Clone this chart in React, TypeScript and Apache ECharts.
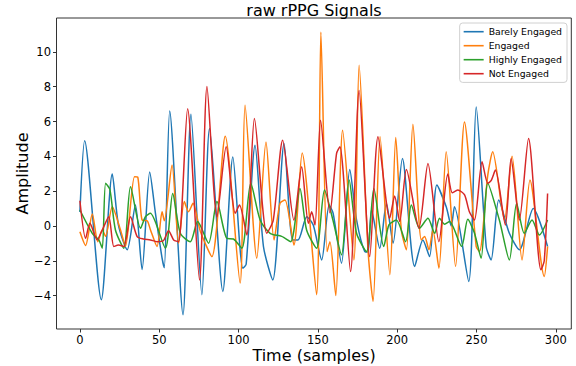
import React, { useEffect, useRef } from "react";
import * as echarts from "echarts";

const seriesNames = ["Barely Engaged", "Engaged", "Highly Engaged", "Not Engaged"];
const seriesColors = ["#1f77b4", "#ff7f0e", "#2ca02c", "#d62728"];

const xTicks = [0, 50, 100, 150, 200, 250, 300];
const yTicks = [-4, -2, 0, 2, 4, 6, 8, 10];

// [sample, amplitude] (turning points)
const barelyEngaged: [number, number][] = [
  [0, 0.8], [3, 4.9], [13.5, -4.24], [20.4, 2.98], [24.3, 0.05], [29.8, -1.37], [35, 1.2], [39.2, -2.5],
  [44, 3.1], [47.6, 0.74], [51.8, -1.85], [53.2, -2.4], [56.6, 6.6], [65, -5.1], [70, 6.42], [76.9, -3.95],
  [81.7, 5.6], [90.1, -3.76], [96.4, 3.97], [102.7, -2.43], [104.8, -2.2], [110.4, 4.64], [115.7, -1.18],
  [121.6, -3.1], [128.7, 4.74], [134.1, -0.8], [137.5, -0.8], [143, 0.53], [147.1, 0.05], [152.4, -1.95],
  [157.1, 1.2], [159.6, 0.74], [164.9, -2.14], [170.1, 3.25], [174.4, 0.34], [179.6, -1.47], [181.6, -1.5],
  [183.8, 0.92], [189, -1.28], [193.2, 1.3], [197.4, -0.99], [203.3, 3.88], [211, -2.33], [216.2, -0.8],
  [220.4, -1.76], [225, 2.35], [230.9, 1.1], [234.1, 0], [236.1, 1.1], [245.1, -3.19], [249.8, 6.84],
  [256.1, -1.18], [259.2, -1.95], [264, 1.49], [270.7, -0.42], [277, -1.37], [285.8, 1.01], [294.8, -1.18],
];

const engaged: [number, number][] = [
  [0, -0.33], [3.6, -1.12], [7.8, 0.69], [11.3, -0.9], [14.1, -0.23], [16.2, -0.6], [20.4, 1.1], [25.6, -0.23],
  [28.7, -1.18], [34.4, 2.83], [36.5, 2.8], [39.2, 0.34], [42.4, 0.3], [44.4, -0.2], [48.6, -1.18], [51.8, 0.82],
  [53.2, 0.3], [58.1, 3.5], [62.2, -0.99], [65.8, 1.4], [68.5, 0.82], [71.3, 1.3], [75.9, -0.3], [83.2, -1.76],
  [91.6, 5.15], [101, -3.28], [104.1, 6.93], [111.5, -1.85], [117.3, 4.83], [122.4, -0.8], [126.1, 1.3],
  [129.3, 1.49], [134.9, -1.09], [140.1, 4.2], [149.2, -3.95], [151.9, 11.13], [155.8, -1.47], [157.6, -0.9],
  [161.3, -4.0], [165.6, 5.5], [172.7, -1.95], [176, 9.23], [181.6, -1.37], [184.8, -4.34], [189.2, 5.12],
  [195.4, -2.8], [199.1, 5.08], [202.6, -0.23], [205.8, -1.37], [209.9, 5.85], [215.2, -0.8], [217.3, -0.6],
  [220, -1.37], [222.5, -0.23], [226.3, -2.43], [230.9, 4.26], [236.8, -2.33], [242.4, 5.98], [249.8, -1.18],
  [251.9, -1.47], [257.1, 2.92], [260.2, 4.26], [267.6, 0.34], [272.4, 4.01], [278.7, -1.95], [283.7, 2.64],
  [292.7, -2.9], [294.8, -1.18],
];

const highlyEngaged: [number, number][] = [
  [0, 0.92], [7.8, -0.42], [11.9, -0.8], [14.1, -1.28], [16.2, 2.45], [18.9, 2.1], [22.4, -0.23], [27.7, -1.28],
  [31.9, 2.25], [38.2, -0.13], [41.3, 0.53], [44.4, 0.73], [53.9, -1.28], [58.5, 1.87], [63.3, -0.42],
  [69.6, -0.9], [74.2, 0.25], [81.1, -0.99], [86.4, 1.4], [92.6, -0.71], [96.8, -0.75], [102.1, -1.28],
  [107.7, 2.45], [113.6, 0.34], [119.9, -0.42], [127.2, -0.6], [132.9, -0.9], [138.7, 2.16], [142.9, -0.23],
  [149.2, -1.28], [154.2, 2.06], [159.6, 0.3], [164.9, -1.66], [169.7, 2.64], [174.4, -0.42], [180.7, -1.47],
  [185.3, 2.16], [191.5, -1.18], [194.8, 0.06], [199.5, 0.34], [205.3, -0.9], [208.9, 1.2], [214.1, -0.13],
  [219.4, 0.44], [223.6, -0.42], [226.7, 0.44], [229.9, 0.1], [233, 0.25], [240.6, -1.18], [244.5, 0.38],
  [248.7, -0.4], [252.9, -1.85], [257.1, 2.45], [264.4, 0.34], [270.7, -1.95], [275.3, 1.3], [280.1, -0.42],
  [285, 0.34], [289.6, -0.52], [294.8, 0.34],
];

const notEngaged: [number, number][] = [
  [0, 1.45], [3.6, -0.71], [6.3, 0.15], [10.9, -0.8], [14.1, -0.23], [18.2, 0.53], [21.4, -1.18], [24.3, -1.1],
  [27.7, -1.18], [31.9, 0.53], [36.1, -0.61], [40, -0.75], [44.4, -0.8], [48.6, -0.9], [52.6, -0.85],
  [55.9, -0.27], [59.1, -0.8], [62.2, -0.9], [67.9, 6.74], [75.4, -3.1], [80.1, 8.02], [86.4, 0.53],
  [92.2, 4.55], [97.9, 0.73], [100.6, 1.2], [105.2, -0.52], [110, 6.17], [117.8, -0.42], [121.9, 0.34],
  [127.8, 4.93], [134.9, 0.34], [139.8, 3.4], [144, 0.15], [146.1, 0.82], [148.2, 0.05], [151.7, 6.07],
  [157.6, 0.76], [161.8, 4.17], [163.9, 4.55], [170.6, -2.62], [176, 7.79], [182.7, -1.76], [187.9, 5.12],
  [195.3, 0.44], [198.4, 1.72], [201.6, 0.25], [205.8, 3.25], [213.7, -0.13], [219.4, 3.59], [226.3, -0.9],
  [231.9, 2.98], [234.7, 1.91], [238.2, 2.06], [242.4, 1.8], [245.5, 0.82], [248.7, 0.34], [253.5, 3.69],
  [257.1, 2.45], [259.2, 2.6], [261.9, 3.21], [268.2, 0.05], [271.8, 3.88], [277, 0.34], [282.8, 5.02],
  [290.6, -2.52], [292.7, -2.0], [294.8, 1.87],
];

const seriesData = [barelyEngaged, engaged, highlyEngaged, notEngaged];

const FONT = "DejaVu Sans";
const fmt = (v: number) => String(v).replace("-", "\u2212");

export default function App() {
  const ref = useRef<HTMLDivElement>(null);
  useEffect(() => {
    if (!ref.current) return;
    const chart = echarts.init(ref.current, null, { renderer: "svg" });
    chart.setOption({
      animation: false,
      backgroundColor: "#ffffff",
      textStyle: { fontFamily: FONT },
      grid: {
        left: 56.5,
        top: 18,
        right: 4.7,
        bottom: 37,
        show: true,
        borderColor: "#333",
        borderWidth: 1,
        backgroundColor: "transparent",
      },
      xAxis: {
        type: "value",
        position: "bottom",
        min: -14.75,
        max: 309.75,
        splitLine: { show: false },
        axisLine: { show: false, onZero: false },
        axisTick: { show: true, length: 3.5, customValues: xTicks, lineStyle: { color: "#333" } },
        axisLabel: { customValues: xTicks, formatter: fmt, fontSize: 11.5, color: "#000", margin: 5, fontFamily: FONT },
      },
      yAxis: {
        type: "value",
        position: "left",
        min: -5.92,
        max: 11.95,
        splitLine: { show: false },
        axisLine: { show: false, onZero: false },
        axisTick: { show: true, length: 3.5, customValues: yTicks, lineStyle: { color: "#333" } },
        axisLabel: { customValues: yTicks, formatter: fmt, fontSize: 11.5, color: "#000", margin: 5.5, fontFamily: FONT },
      },
      legend: {
        orient: "vertical",
        right: 9,
        top: 23,
        icon: "rect",
        itemWidth: 20,
        itemHeight: 1.6,
        itemGap: 2.6,
        itemTextGap: 7,
        padding: [3, 5, 3, 4],
        backgroundColor: "rgba(255,255,255,0.8)",
        borderColor: "#d0d0d0",
        borderWidth: 1,
        borderRadius: 3,
        textStyle: { fontSize: 9.3, color: "#000", fontFamily: FONT, lineHeight: 11.4 },
        data: seriesNames,
      },
      series: seriesNames.map((name, i) => ({
        name,
        type: "line",
        data: seriesData[i],
        showSymbol: false,
        symbol: "none",
        smooth: 0.25,
        lineStyle: { width: 1.5, color: seriesColors[i] },
        itemStyle: { color: seriesColors[i] },
      })),
      graphic: [
        {
          type: "text",
          x: 314,
          y: 10,
          style: { text: "raw rPPG Signals", fontSize: 16, fontFamily: FONT, fill: "#000", textAlign: "center", textVerticalAlign: "middle" },
        },
        {
          type: "text",
          x: 314,
          y: 355,
          style: { text: "Time (samples)", fontSize: 16, fontFamily: FONT, fill: "#000", textAlign: "center", textVerticalAlign: "middle" },
        },
        {
          type: "text",
          x: 22.5,
          y: 173.5,
          rotation: Math.PI / 2,
          style: { text: "Amplitude", fontSize: 16, fontFamily: FONT, fill: "#000", textAlign: "center", textVerticalAlign: "middle" },
        },
      ],
    });
    return () => chart.dispose();
  }, []);
  return <div ref={ref} style={{ position: "fixed", left: 0, top: 0, width: 576, height: 366 }} />;
}
